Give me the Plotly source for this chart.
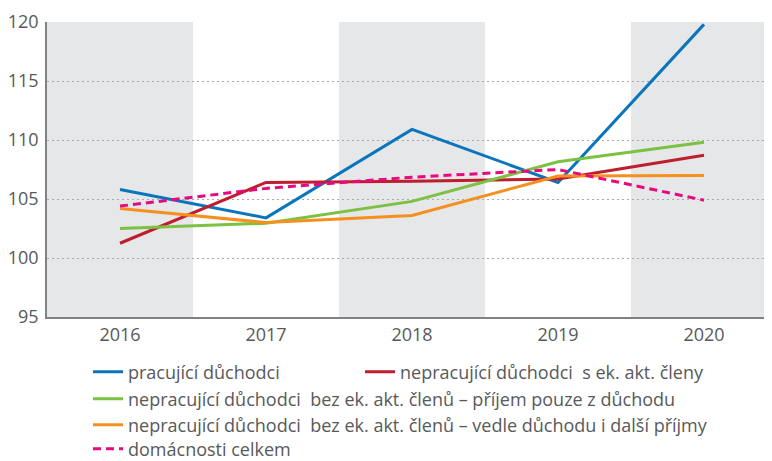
import plotly.graph_objects as go

years = ["2016", "2017", "2018", "2019", "2020"]
pracujici = [105.8, 103.4, 110.9, 106.4, 119.8]
s_ek_akt = [101.25, 106.4, 106.5, 106.7, 108.7]
pouze_duchod = [102.5, 102.95, 104.8, 108.15, 109.8]
dalsi_prijmy = [104.2, 103.0, 103.6, 106.95, 107.0]
celkem = [104.4, 105.9, 106.85, 107.5, 104.9]

names = [
    "pracující důchodci",
    "nepracující důchodci  s ek. akt. členy",
    "nepracující důchodci  bez ek. akt. členů – příjem pouze z důchodu",
    "nepracující důchodci  bez ek. akt. členů – vedle důchodu i další příjmy",
    "domácnosti celkem",
]
series = [pracujici, s_ek_akt, pouze_duchod, dalsi_prijmy, celkem]
colors = ["#0a75bc", "#be1e2d", "#7cc142", "#f5901e", "#e8087f"]
dashes = ["solid", "solid", "solid", "solid", "8px,5px"]
legends = ["legend", "legend2", "legend3", "legend4", "legend5"]

TEXT = "#58595b"
FONT = "Open Sans"
W, H = 772, 461

fig = go.Figure()
for nm, ys, c, d, lg in zip(names, series, colors, dashes, legends):
    fig.add_trace(go.Scatter(
        x=years, y=ys, name=nm, mode="lines",
        line=dict(color=c, width=3, dash=d),
        legend=lg,
    ))

# alternating shaded bands
for i, yr in enumerate(years):
    if i % 2 == 0:
        fig.add_shape(type="rect", xref="x", yref="paper",
                      x0=i - 0.5, x1=i + 0.5, y0=0, y1=1,
                      fillcolor="#e6e7e8", line_width=0, layer="below")

# legend positions (container pixels)
leg_pos = {
    "legend": (80, 364),
    "legend2": (352, 364),
    "legend3": (80, 391),
    "legend4": (80, 417),
    "legend5": (80, 441),
}
leg_common = dict(font=dict(family=FONT, size=18, color=TEXT),
                  bgcolor="rgba(0,0,0,0)", xref="container", yref="container",
                  xanchor="left", yanchor="middle", borderwidth=0,
                  itemclick=False, itemdoubleclick=False)
layout_legs = {}
for k, (px, py) in leg_pos.items():
    layout_legs[k] = dict(x=px / W, y=1 - py / H, **leg_common)

fig.update_layout(
    width=W, height=H,
    margin=dict(l=39, r=3, t=14, b=152, autoexpand=False),
    paper_bgcolor="white", plot_bgcolor="white",
    font=dict(family=FONT, size=18, color=TEXT),
    showlegend=True,
    **layout_legs,
)
fig.update_xaxes(
    type="category", categoryorder="array", categoryarray=years,
    range=[-0.5, 4.5], showgrid=False, zeroline=False,
    showline=True, linecolor="#808285", linewidth=1.5,
    ticks="", ticklabelstandoff=1, tickangle=0,
    tickfont=dict(family=FONT, size=18, color=TEXT),
)
fig.update_yaxes(
    range=[95, 120], tickmode="array", tickvals=[95, 100, 105, 110, 115, 120],
    showgrid=True, gridcolor="#a7a9ac", gridwidth=1, griddash="2px,3px",
    zeroline=False, showline=True, linecolor="#808285", linewidth=1.5,
    ticks="", ticklabelstandoff=3,
    tickfont=dict(family=FONT, size=18, color=TEXT),
)

fig.write_html("out.html")
